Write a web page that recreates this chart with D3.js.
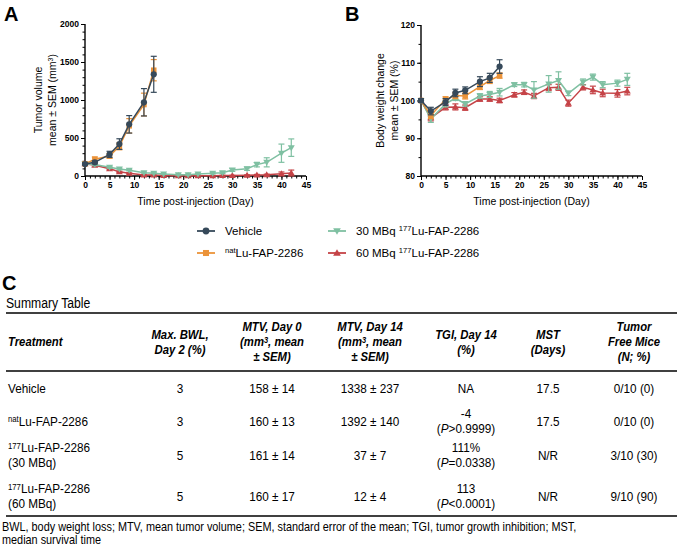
<!DOCTYPE html>
<html><head><meta charset="utf-8">
<script src="https://cdn.jsdelivr.net/npm/d3@7"></script>
<style>
body{margin:0;background:#fff;}
svg{display:block;font-family:"Liberation Sans",Arial,sans-serif;}
</style></head>
<body>
<svg id="c" width="677" height="546"></svg>
<script>
// ---------- DATA ----------
const seriesNames = ["Vehicle", "^{nat}Lu-FAP-2286", "30 MBq ^{177}Lu-FAP-2286", "60 MBq ^{177}Lu-FAP-2286"];
const seriesColors = ["#36495a", "#eb9339", "#7fc0a2", "#c54347"];
const seriesShapes = ["circle", "square", "tridown", "triup"];

const daysShort = [0, 2, 5, 7, 9, 12, 14];
const daysShortB = [0, 2, 5, 7, 9, 12, 14, 16];
const daysLong = [0, 2, 5, 7, 9, 12, 14, 16, 19, 21, 23, 26, 28, 30, 33, 35, 37, 40, 42];

// Panel A: tumor volume (mm3)
const tvVehicle = [158, 180, 285, 420, 680, 970, 1338];
const tvVehicleSem = [14, 20, 40, 70, 115, 180, 237];
const tvNat = [160, 220, 262, 390, 660, 940, 1392];
const tvNatSem = [13, 30, 30, 45, 95, 150, 140];
const tv30 = [161, 150, 114, 92, 75, 44, 37, 26, 18, 18, 26, 35, 44, 79, 96, 150, 180, 300, 373];
const tv30Sem = [14, 14, 12, 10, 8, 7, 7, 6, 5, 5, 7, 9, 12, 18, 22, 30, 60, 120, 115];
const tv60 = [160, 140, 95, 55, 35, 12, 12, 6, 4, 4, 4, 4, 6, 6, 10, 14, 16, 28, 38];
const tv60Sem = [17, 14, 10, 8, 6, 4, 4, 3, 2, 2, 2, 2, 3, 3, 5, 7, 8, 25, 40];

// Panel B: body weight change (%)
const bwVehicle = [100, 97.2, 99.6, 102.0, 102.7, 105.0, 106.0, 109.0];
const bwVehicleSem = [0.5, 1.0, 0.9, 1.0, 0.9, 1.3, 1.2, 1.8];
const bwNat = [100, 96.0, 100.3, 101.3, 101.2, 103.7, 105.3, 106.6];
const bwNatSem = [0.5, 0.8, 0.7, 0.8, 0.8, 0.8, 0.8, 0.7];
const bw30 = [100, 95.1, 99.1, 100.6, 99.1, 101.2, 101.6, 102.2, 104.2, 104.2, 102.8, 104.4, 105.3, 101.9, 104.9, 106.2, 104.2, 104.6, 105.6];
const bw30Sem = [0.5, 0.9, 0.8, 0.6, 0.6, 0.6, 0.8, 1.0, 0.5, 0.6, 2.2, 2.2, 2.3, 0.6, 0.8, 0.8, 0.8, 0.8, 1.6];
const bw60 = [100, 95.4, 98.2, 98.3, 98.1, 100.4, 100.4, 100.0, 101.5, 102.2, 101.2, 103.4, 103.5, 99.3, 103.5, 102.8, 102.0, 101.9, 102.5];
const bw60Sem = [0.5, 0.8, 0.7, 0.8, 0.7, 0.6, 0.6, 0.6, 0.6, 0.6, 0.7, 0.8, 0.8, 0.8, 0.7, 1.0, 1.0, 1.0, 1.0];

const xTicks = [0, 5, 10, 15, 20, 25, 30, 35, 40, 45];
const yTicksA = [0, 500, 1000, 1500, 2000];
const yTicksB = [80, 90, 100, 110, 120];

// Table
const tableTitle = "Summary Table";
const tableHeaders = [
  ["Treatment"],
  ["Max. BWL,", "Day 2 (%)"],
  ["MTV, Day 0", "(mm^{3}, mean", "± SEM)"],
  ["MTV, Day 14", "(mm^{3}, mean", "± SEM)"],
  ["TGI, Day 14", "(%)"],
  ["MST", "(Days)"],
  ["Tumor", "Free Mice", "(N; %)"]
];
const tableTreatments = [["Vehicle"], ["^{nat}Lu-FAP-2286"], ["^{177}Lu-FAP-2286", "(30 MBq)"], ["^{177}Lu-FAP-2286", "(60 MBq)"]];
const tableBWL = ["3", "3", "5", "5"];
const tableMTV0 = ["158 ± 14", "160 ± 13", "161 ± 14", "160 ± 17"];
const tableMTV14 = ["1338 ± 237", "1392 ± 140", "37 ± 7", "12 ± 4"];
const tableTGI = [["NA"], ["-4", "(_{P}>0.9999)"], ["111%", "(_{P}=0.0338)"], ["113", "(_{P}<0.0001)"]];
const tableMST = ["17.5", "17.5", "N/R", "N/R"];
const tableTFM = ["0/10 (0)", "0/10 (0)", "3/10 (30)", "9/10 (90)"];
const footnote = ["BWL, body weight loss; MTV, mean tumor volume; SEM, standard error of the mean; TGI, tumor growth inhibition; MST,", "median survival time"];

// ---------- HELPERS ----------
const svg = d3.select("#c");
const NARROW = 0.87;

function richText(sel, str, supShift) {
  // ^{..} superscript, _{..} italic
  const re = /(\^\{[^}]*\}|_\{[^}]*\})/g;
  const parts = str.split(re).filter(s => s.length);
  parts.forEach(p => {
    if (p.startsWith("^{")) {
      sel.append("tspan").attr("font-size", "0.66em").attr("baseline-shift", supShift || "super").text(p.slice(2, -1));
    } else if (p.startsWith("_{")) {
      sel.append("tspan").attr("font-style", "italic").text(p.slice(2, -1));
    } else {
      sel.append("tspan").text(p);
    }
  });
  return sel;
}

function marker(g, shape, x, y, color, size) {
  const s = size;
  if (shape === "circle") {
    g.append("circle").attr("cx", x).attr("cy", y).attr("r", s * 0.62).attr("fill", color);
  } else if (shape === "square") {
    g.append("rect").attr("x", x - s * 0.55).attr("y", y - s * 0.55).attr("width", s * 1.1).attr("height", s * 1.1).attr("fill", color);
  } else if (shape === "tridown") {
    g.append("path").attr("d", `M${x - s * 0.7},${y - s * 0.5}L${x + s * 0.7},${y - s * 0.5}L${x},${y + s * 0.7}Z`).attr("fill", color);
  } else {
    g.append("path").attr("d", `M${x - s * 0.7},${y + s * 0.5}L${x + s * 0.7},${y + s * 0.5}L${x},${y - s * 0.7}Z`).attr("fill", color);
  }
}

function panel(opts) {
  const g = svg.append("g");
  const x = d3.scaleLinear().domain([0, 45]).range([opts.x0, opts.x1]);
  const y = d3.scaleLinear().domain(opts.yDomain).range([opts.yBottom, opts.yTop]);

  const xAxis = d3.axisBottom(x).tickValues(xTicks).tickSize(4).tickPadding(2).tickFormat(d3.format("d"));
  const xMinor = d3.axisBottom(x).tickValues(d3.range(0, 46, 1)).tickSize(2.5).tickFormat("");
  const yAxis = d3.axisLeft(y).tickValues(opts.yTicks).tickSize(4).tickPadding(2).tickFormat(d3.format("d"));
  const yMinor = d3.axisLeft(y).tickValues(opts.yMinor).tickSize(2.5).tickFormat("");

  [xMinor, xAxis].forEach(a => {
    const ax = g.append("g").attr("transform", `translate(0,${opts.yBottom})`).call(a);
    ax.select(".domain").remove();
    ax.selectAll("line").attr("stroke", "#000").attr("stroke-width", 1);
    ax.selectAll("text").attr("font-size", 8.5).attr("font-weight", "bold").attr("fill", "#000").attr("font-family", "Liberation Sans, Arial");
  });
  [yMinor, yAxis].forEach(a => {
    const ax = g.append("g").attr("transform", `translate(${opts.x0},0)`).call(a);
    ax.select(".domain").remove();
    ax.selectAll("line").attr("stroke", "#000").attr("stroke-width", 1);
    ax.selectAll("text").attr("font-size", 8.5).attr("font-weight", "bold").attr("fill", "#000").attr("font-family", "Liberation Sans, Arial");
  });
  g.append("line").attr("x1", opts.x0).attr("x2", opts.x1).attr("y1", opts.yBottom).attr("y2", opts.yBottom).attr("stroke", "#000").attr("stroke-width", 1.4);
  g.append("line").attr("x1", opts.x0).attr("x2", opts.x0).attr("y1", opts.yTop).attr("y2", opts.yBottom).attr("stroke", "#000").attr("stroke-width", 1.4);

  g.append("text").attr("x", (opts.x0 + opts.x1) / 2).attr("y", 205).attr("text-anchor", "middle").attr("font-size", 10.5).text("Time post-injection (Day)");
  const cy = (opts.yTop + opts.yBottom) / 2;
  opts.yTitle.forEach((t, i) => {
    const tx = g.append("text").attr("transform", `translate(${opts.yTitleX[i]},${cy}) rotate(-90)`).attr("text-anchor", "middle").attr("font-size", 10.5);
    richText(tx, t);
  });
  g.append("text").attr("x", opts.labelX).attr("y", 21).attr("font-size", 20).attr("font-weight", "bold").text(opts.label);

  const order = [3, 2, 1, 0];
  order.forEach(si => {
    const s = opts.series[si];
    const col = seriesColors[si];
    const pts = s.days.map((d, i) => ({ d, v: s.vals[i], e: s.sem[i] }));
    const sg = g.append("g");
    pts.forEach(p => {
      const yt = y(p.v + p.e), yb = y(Math.max(opts.yDomain[0], p.v - p.e));
      sg.append("line").attr("x1", x(p.d)).attr("x2", x(p.d)).attr("y1", yt).attr("y2", yb).attr("stroke", col).attr("stroke-width", 1.2);
      [yt, yb].forEach(yy => sg.append("line").attr("x1", x(p.d) - 3).attr("x2", x(p.d) + 3).attr("y1", yy).attr("y2", yy).attr("stroke", col).attr("stroke-width", 1.2));
    });
    sg.append("path").datum(pts).attr("fill", "none").attr("stroke", col).attr("stroke-width", 1.5)
      .attr("d", d3.line().x(p => x(p.d)).y(p => y(p.v)));
    pts.forEach(p => marker(sg, seriesShapes[si], x(p.d), y(p.v), col, 5));
  });
}

panel({
  label: "A", labelX: 4,
  x0: 85, x1: 306, yTop: 24, yBottom: 176,
  yDomain: [0, 2000], yTicks: yTicksA, yMinor: d3.range(0, 2001, 100),
  yTitle: ["Tumor volume", "mean ± SEM (mm^{3})"], yTitleX: [42, 56],
  series: [
    { days: daysShort, vals: tvVehicle, sem: tvVehicleSem },
    { days: daysShort, vals: tvNat, sem: tvNatSem },
    { days: daysLong, vals: tv30, sem: tv30Sem },
    { days: daysLong, vals: tv60, sem: tv60Sem }
  ]
});
panel({
  label: "B", labelX: 345,
  x0: 421, x1: 642, yTop: 25, yBottom: 176,
  yDomain: [80, 120], yTicks: yTicksB, yMinor: d3.range(80, 121, 5),
  yTitle: ["Body weight change", "mean ± SEM (%)"], yTitleX: [384, 398],
  series: [
    { days: daysShortB, vals: bwVehicle, sem: bwVehicleSem },
    { days: daysShortB, vals: bwNat, sem: bwNatSem },
    { days: daysLong, vals: bw30, sem: bw30Sem },
    { days: daysLong, vals: bw60, sem: bw60Sem }
  ]
});

// legend
const legPos = [[197, 231], [197, 253], [328, 231], [328, 253]];
seriesNames.forEach((n, i) => {
  const [lx, ly] = legPos[i];
  const lg = svg.append("g");
  lg.append("line").attr("x1", lx).attr("x2", lx + 18).attr("y1", ly).attr("y2", ly).attr("stroke", seriesColors[i]).attr("stroke-width", 1.8);
  marker(lg, seriesShapes[i], lx + 9, ly, seriesColors[i], 5.5);
  const t = lg.append("text").attr("x", lx + 28).attr("y", ly + 4).attr("font-size", 11.5);
  richText(t, n);
});

// ---------- TABLE ----------
const T = svg.append("g");
function ntext(x, y, anchor, size) {
  return T.append("text").attr("transform", `translate(${x},${y}) scale(${NARROW},1)`)
    .attr("text-anchor", anchor).attr("font-size", size);
}
svg.append("text").attr("x", 2).attr("y", 290).attr("font-size", 20).attr("font-weight", "bold").text("C");
ntext(6, 308, "start", 14).text(tableTitle);
T.append("line").attr("x1", 6).attr("x2", 677).attr("y1", 313).attr("y2", 313).attr("stroke", "#000").attr("stroke-width", 1.6);
T.append("line").attr("x1", 6).attr("x2", 677).attr("y1", 371).attr("y2", 371).attr("stroke", "#000").attr("stroke-width", 1.4);
T.append("line").attr("x1", 6).attr("x2", 677).attr("y1", 516).attr("y2", 516).attr("stroke", "#000").attr("stroke-width", 1.4);

const colX = [8, 180, 272, 370, 466, 548, 634];
tableHeaders.forEach((lines, ci) => {
  const n = lines.length;
  const startY = n === 3 ? 331 : n === 2 ? 338.5 : 346;
  lines.forEach((l, li) => {
    const t = ntext(colX[ci], startY + li * 15, ci === 0 ? "start" : "middle", 13)
      .attr("font-weight", "bold").attr("font-style", "italic");
    richText(t, l, "0.32em");
  });
});

const rowCenters = [388, 421, 455, 496];
function cell(ci, ri, lines) {
  const n = lines.length;
  const y0 = rowCenters[ri] + 4.5 - (n - 1) * 7.5;
  lines.forEach((l, li) => {
    const t = ntext(colX[ci], y0 + li * 15, ci === 0 ? "start" : "middle", 13.5);
    richText(t, l, "0.42em");
  });
}
tableTreatments.forEach((v, ri) => cell(0, ri, v));
tableBWL.forEach((v, ri) => cell(1, ri, [v]));
tableMTV0.forEach((v, ri) => cell(2, ri, [v]));
tableMTV14.forEach((v, ri) => cell(3, ri, [v]));
tableTGI.forEach((v, ri) => cell(4, ri, v));
tableMST.forEach((v, ri) => cell(5, ri, [v]));
tableTFM.forEach((v, ri) => cell(6, ri, [v]));

footnote.forEach((f, i) => {
  ntext(2, 531 + i * 12.5, "start", 12.5).text(f);
});
</script>
</body></html>
